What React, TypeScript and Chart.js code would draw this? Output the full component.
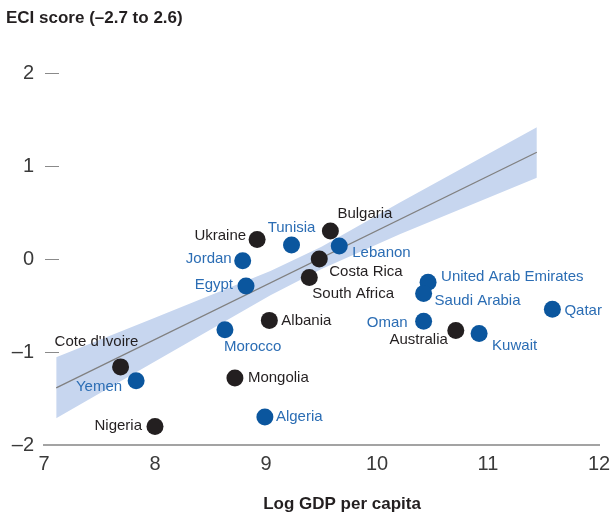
import React, { useEffect, useRef } from "react";
import { Chart, registerables } from "chart.js";

Chart.register(...registerables);

// ---- Data ----
const xTicks = [7, 8, 9, 10, 11, 12];
const yTicks = [-2, -1, 0, 1, 2];

const blackNames = ["Ukraine", "Bulgaria", "Costa Rica", "South Africa", "Albania", "Australia", "Cote d'Ivoire", "Mongolia", "Nigeria"];
const blackGdp = [8.92, 9.58, 9.48, 9.39, 9.03, 10.71, 7.69, 8.72, 8.0];
const blackEci = [0.21, 0.3, 0.0, -0.2, -0.66, -0.77, -1.16, -1.28, -1.8];

const blueNames = ["Tunisia", "Jordan", "Lebanon", "Egypt", "Morocco", "Yemen", "Algeria", "United Arab Emirates", "Saudi Arabia", "Oman", "Kuwait", "Qatar"];
const blueGdp = [9.23, 8.79, 9.66, 8.82, 8.63, 7.83, 8.99, 10.46, 10.42, 10.42, 10.92, 11.58];
const blueEci = [0.15, -0.02, 0.14, -0.29, -0.76, -1.31, -1.7, -0.25, -0.37, -0.67, -0.8, -0.54];

const fitGdp = [7.11, 11.44];
const fitEci = [-1.385, 1.148];

const bandGdp = [7.11, 7.96, 9.04, 9.5, 10.21, 11.44];
const bandUpper = [-1.057, -0.65, -0.13, 0.133, 0.61, 1.416];
const bandLower = [-1.713, -1.13, -0.39, -0.107, 0.27, 0.874];

// ---- Label placement (layout only) ----
type Place = { align: CanvasTextAlign; dx: number; dy: number };
const blackPlace: Place[] = [
  { align: "right", dx: -11, dy: -4 },
  { align: "left", dx: 7, dy: -17 },
  { align: "left", dx: 10, dy: 13 },
  { align: "left", dx: 3, dy: 16 },
  { align: "left", dx: 12, dy: 0 },
  { align: "right", dx: -8, dy: 9 },
  { align: "left", dx: -66, dy: -25 },
  { align: "left", dx: 13, dy: 0 },
  { align: "right", dx: -13, dy: -1 },
];
const bluePlace: Place[] = [
  { align: "center", dx: 0, dy: -17 },
  { align: "right", dx: -11, dy: -2 },
  { align: "left", dx: 13, dy: 7 },
  { align: "right", dx: -13, dy: -1 },
  { align: "left", dx: -1, dy: 17 },
  { align: "right", dx: -14, dy: 6 },
  { align: "left", dx: 11, dy: 0 },
  { align: "left", dx: 13, dy: -5 },
  { align: "left", dx: 11, dy: 7 },
  { align: "right", dx: -16, dy: 2 },
  { align: "left", dx: 13, dy: 12 },
  { align: "left", dx: 12, dy: 2 },
];

const FONT = "'Liberation Sans', Arial, Helvetica, sans-serif";
const BLACK_DOT = "#231f20";
const BLUE_DOT = "#0b569e";
const BLUE_TEXT = "#2b6db4";

const toXY = (xs: number[], ys: number[]) => xs.map((x, i) => ({ x, y: ys[i] }));

const labelPlugin = {
  id: "pointLabels",
  afterDatasetsDraw(chart: any) {
    const ctx = chart.ctx as CanvasRenderingContext2D;
    ctx.save();
    ctx.font = `15px ${FONT}`;
    ctx.textBaseline = "middle";
    const draw = (dsIndex: number, names: string[], places: Place[], color: string) => {
      const meta = chart.getDatasetMeta(dsIndex);
      ctx.fillStyle = color;
      meta.data.forEach((el: any, i: number) => {
        const p = places[i];
        ctx.textAlign = p.align;
        ctx.fillText(names[i], el.x + p.dx, el.y + p.dy);
      });
    };
    draw(3, blackNames, blackPlace, "#231f20");
    draw(4, blueNames, bluePlace, BLUE_TEXT);

    // y tick dashes
    const ys = chart.scales.y;
    const left = chart.chartArea.left;
    ctx.strokeStyle = "#8a8a8a";
    ctx.lineWidth = 1;
    yTicks.forEach((v) => {
      if (v === -2) return;
      const py = Math.round(ys.getPixelForValue(v)) + 0.5;
      ctx.beginPath();
      ctx.moveTo(left + 1, py);
      ctx.lineTo(left + 15, py);
      ctx.stroke();
    });

    // titles
    ctx.fillStyle = "#231f20";
    ctx.font = `bold 17px ${FONT}`;
    ctx.textAlign = "left";
    ctx.textBaseline = "alphabetic";
    ctx.fillText("ECI score (\u20132.7 to 2.6)", 6, 23);
    ctx.textAlign = "center";
    ctx.fillText("Log GDP per capita", 342, 509);
    ctx.restore();
  },
};

export default function App() {
  const ref = useRef<HTMLCanvasElement | null>(null);

  useEffect(() => {
    if (!ref.current) return;
    const chart = new Chart(ref.current, {
      type: "scatter",
      data: {
        datasets: [
          {
            label: "band upper",
            data: toXY(bandGdp, bandUpper),
            showLine: true,
            borderWidth: 0,
            pointRadius: 0,
            backgroundColor: "#c7d6ef",
            fill: "+1",
            order: 3,
          } as any,
          {
            label: "band lower",
            data: toXY(bandGdp, bandLower),
            showLine: true,
            borderWidth: 0,
            pointRadius: 0,
            fill: false,
            order: 3,
          } as any,
          {
            label: "fit",
            data: toXY(fitGdp, fitEci),
            showLine: true,
            borderColor: "#808080",
            borderWidth: 1.3,
            pointRadius: 0,
            fill: false,
            order: 2,
          } as any,
          {
            label: "others",
            data: toXY(blackGdp, blackEci),
            pointRadius: 8.5,
            pointHoverRadius: 8.5,
            backgroundColor: BLACK_DOT,
            borderWidth: 0,
            order: 1,
          } as any,
          {
            label: "MENA",
            data: toXY(blueGdp, blueEci),
            pointRadius: 8.5,
            pointHoverRadius: 8.5,
            backgroundColor: BLUE_DOT,
            borderWidth: 0,
            order: 0,
          } as any,
        ],
      },
      options: {
        animation: false,
        responsive: true,
        maintainAspectRatio: false,
        layout: { padding: { top: 73, right: 12, left: 0, bottom: 0 } },
        plugins: { legend: { display: false }, tooltip: { enabled: false }, title: { display: false } },
        events: [],
        scales: {
          x: {
            type: "linear",
            min: 7,
            max: 12,
            afterFit: (s: any) => {
              s.height = 70;
              s.paddingLeft = 0;
              s.paddingRight = 0;
            },
            afterBuildTicks: (s: any) => {
              s.ticks = xTicks.map((v) => ({ value: v }));
            },
            grid: { display: false, drawTicks: false },
            border: { display: true, color: "#a3a3a3", width: 2 },
            ticks: {
              padding: 7,
              color: "#3a3a3a",
              font: { family: FONT, size: 20 },
            },
          },
          y: {
            type: "linear",
            min: -2,
            max: 2,
            afterFit: (s: any) => {
              s.width = 44;
              s.paddingTop = 0;
              s.paddingBottom = 0;
            },
            afterBuildTicks: (s: any) => {
              s.ticks = yTicks.map((v) => ({ value: v }));
            },
            grid: { display: false, drawTicks: false },
            border: { display: false },
            ticks: {
              padding: 10,
              color: "#3a3a3a",
              font: { family: FONT, size: 20 },
              callback: (v: any) => (v < 0 ? "\u2013" + Math.abs(v) : String(v)),
            },
          },
        },
      },
      plugins: [labelPlugin],
    });
    return () => chart.destroy();
  }, []);

  return (
    <div style={{ position: "absolute", left: 0, top: 0, width: 611, height: 515, background: "#fff" }}>
      <canvas ref={ref} />
    </div>
  );
}
